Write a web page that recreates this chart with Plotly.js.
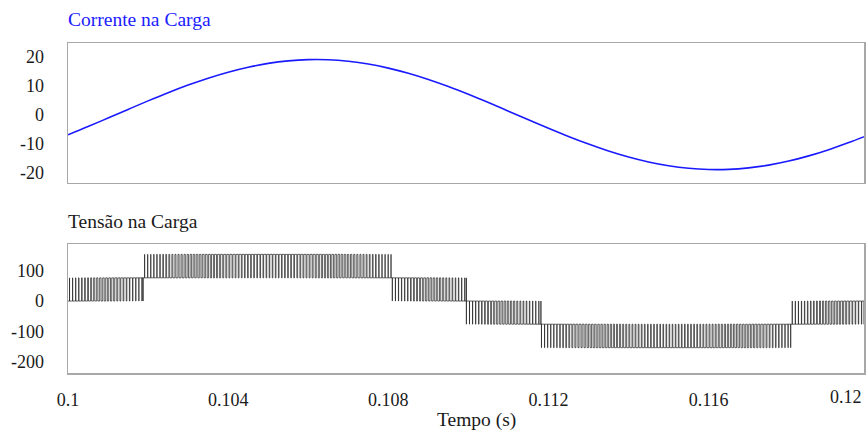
<!DOCTYPE html>
<html>
<head>
<meta charset="utf-8">
<script src="https://cdn.plot.ly/plotly-3.0.1.min.js"></script>
<style>html,body{margin:0;padding:0;background:#fff;}#chart{width:866px;height:436px;}</style>
</head>
<body>
<div id="chart"></div>
<script>
// ---- Load current (top panel) ----
const curTime = [0.1, 0.1005, 0.101, 0.1015, 0.102, 0.1025, 0.103, 0.1035, 0.104, 0.1045,
  0.105, 0.1055, 0.106, 0.1065, 0.107, 0.1075, 0.108, 0.1085, 0.109, 0.1095,
  0.11, 0.1105, 0.111, 0.1115, 0.112, 0.1125, 0.113, 0.1135, 0.114, 0.1145,
  0.115, 0.1155, 0.116, 0.1165, 0.117, 0.1175, 0.118, 0.1185, 0.119, 0.1195, 0.12];
const curAmps = [-6.99, -4.14, -1.19, 1.79, 4.73, 7.55, 10.18, 12.57, 14.64, 16.35,
  17.67, 18.54, 18.96, 18.92, 18.40, 17.44, 16.04, 14.25, 12.11, 9.67,
  6.99, 4.14, 1.19, -1.79, -4.73, -7.55, -10.18, -12.57, -14.64, -16.35,
  -17.67, -18.54, -18.96, -18.92, -18.40, -17.44, -16.04, -14.25, -12.11, -9.67, -6.99];

// ---- Load voltage (bottom panel): multilevel PWM segments ----
const segStart = [0.1, 0.101875, 0.1081, 0.10995, 0.111825, 0.11805];
const segEnd   = [0.101875, 0.1081, 0.10995, 0.111825, 0.11805, 0.11988];
const segLow   = [0, 76, 0, -76, -153, -76];
const segHigh  = [76, 153, 76, 0, -76, 0];
const switchPeriod = 0.000077;  // apparent switching period (s)
const refPeak = 137;            // modulating reference peak (V)
const refZero = 0.1;            // upward zero crossing of the reference (s)
const refFreq = 50;             // Hz

// tick labels
const xTicks = [0.1, 0.104, 0.108, 0.112, 0.116];
const xTickText = ['0.1', '0.104', '0.108', '0.112', '0.116'];
const yTopTicks = [-20, -10, 0, 10, 20];
const yBotTicks = [-200, -100, 0, 100];

// build the PWM pulse train from the segment table
const vx = [], vy = [];
for (let s = 0; s < segStart.length; s++) {
  const lo = segLow[s], hi = segHigh[s];
  let t0 = segStart[s];
  vx.push(t0); vy.push(lo);
  while (t0 < segEnd[s] - 1e-9) {
    const T = Math.min(switchPeriod, segEnd[s] - t0);
    const tm = t0 + T / 2;
    const r = refPeak * Math.sin(2 * Math.PI * refFreq * (tm - refZero));
    let d = (r - lo) / (hi - lo);
    d = Math.max(0, Math.min(1, d));
    const tr = t0 + (1 - d) * T / 2, tf = t0 + (1 + d) * T / 2;
    vx.push(tr, tr, tf, tf); vy.push(lo, hi, hi, lo);
    t0 += T;
  }
  vx.push(segEnd[s]); vy.push(lo);
}

const fontFam = '"Liberation Serif", "DejaVu Serif", serif';
const tickFont = {family: fontFam, size: 18, color: '#1a1a1a'};
const borderCol = '#a8a8a8';

const data = [
  {x: curTime, y: curAmps, type: 'scatter', mode: 'lines', xaxis: 'x', yaxis: 'y',
   line: {color: '#1a1aff', width: 1.6, shape: 'spline'}, hoverinfo: 'skip'},
  {x: vx, y: vy, type: 'scatter', mode: 'lines', xaxis: 'x2', yaxis: 'y2',
   line: {color: '#1e1e1e', width: 0.7, simplify: false}, hoverinfo: 'skip'}
];

const xRange = [0.1, 0.11988];
const layout = {
  width: 866, height: 436,
  margin: {l: 68, r: 2, t: 43, b: 63},
  paper_bgcolor: '#ffffff', plot_bgcolor: '#ffffff',
  font: {family: fontFam},
  showlegend: false,
  xaxis: {domain: [0, 1], anchor: 'y', range: xRange, showgrid: false, zeroline: false,
    showline: true, mirror: true, linecolor: borderCol, linewidth: 1.5,
    showticklabels: false, ticks: ''},
  yaxis: {domain: [0.5758, 1], anchor: 'x', range: [-23.6, 24.7], showgrid: false, zeroline: false,
    showline: true, mirror: true, linecolor: borderCol, linewidth: 1.5,
    tickvals: yTopTicks, ticktext: yTopTicks.map(String), tickfont: tickFont,
    ticks: 'outside', ticklen: 19, tickcolor: 'rgba(0,0,0,0)'},
  xaxis2: {domain: [0, 1], anchor: 'y2', range: xRange, showgrid: false, zeroline: false,
    showline: true, mirror: true, linecolor: borderCol, linewidth: 1.5,
    tickvals: xTicks, ticktext: xTickText, tickfont: tickFont,
    ticks: 'outside', ticklen: 10, tickcolor: 'rgba(0,0,0,0)'},
  yaxis2: {domain: [0, 0.3909], anchor: 'x2', range: [-236, 187], showgrid: false, zeroline: false,
    showline: true, mirror: true, linecolor: borderCol, linewidth: 1.5,
    tickvals: yBotTicks, ticktext: yBotTicks.map(String), tickfont: tickFont,
    ticks: 'outside', ticklen: 19, tickcolor: 'rgba(0,0,0,0)'},
  annotations: [
    {text: 'Corrente na Carga', xref: 'paper', yref: 'paper', x: 0, y: 1.0727,
     xanchor: 'left', yanchor: 'middle', showarrow: false, xshift: -2,
     font: {family: fontFam, size: 19.5, color: '#2020ff'}},
    {text: 'Tensão na Carga', xref: 'paper', yref: 'paper', x: 0, y: 0.459,
     xanchor: 'left', yanchor: 'middle', showarrow: false, xshift: -2,
     font: {family: fontFam, size: 19.5, color: '#1a1a1a'}},
    {text: 'Tempo (s)', xref: 'paper', yref: 'paper', x: 0.5126, y: -0.1424,
     xanchor: 'center', yanchor: 'middle', showarrow: false,
     font: {family: fontFam, size: 19.5, color: '#1a1a1a'}},
    {text: '0.12', xref: 'paper', yref: 'paper', x: 1, y: -0.0727,
     xanchor: 'right', yanchor: 'middle', showarrow: false,
     font: {family: fontFam, size: 18, color: '#1a1a1a'}}
  ]
};

Plotly.newPlot('chart', data, layout, {displayModeBar: false, staticPlot: true});
</script>
</body>
</html>
